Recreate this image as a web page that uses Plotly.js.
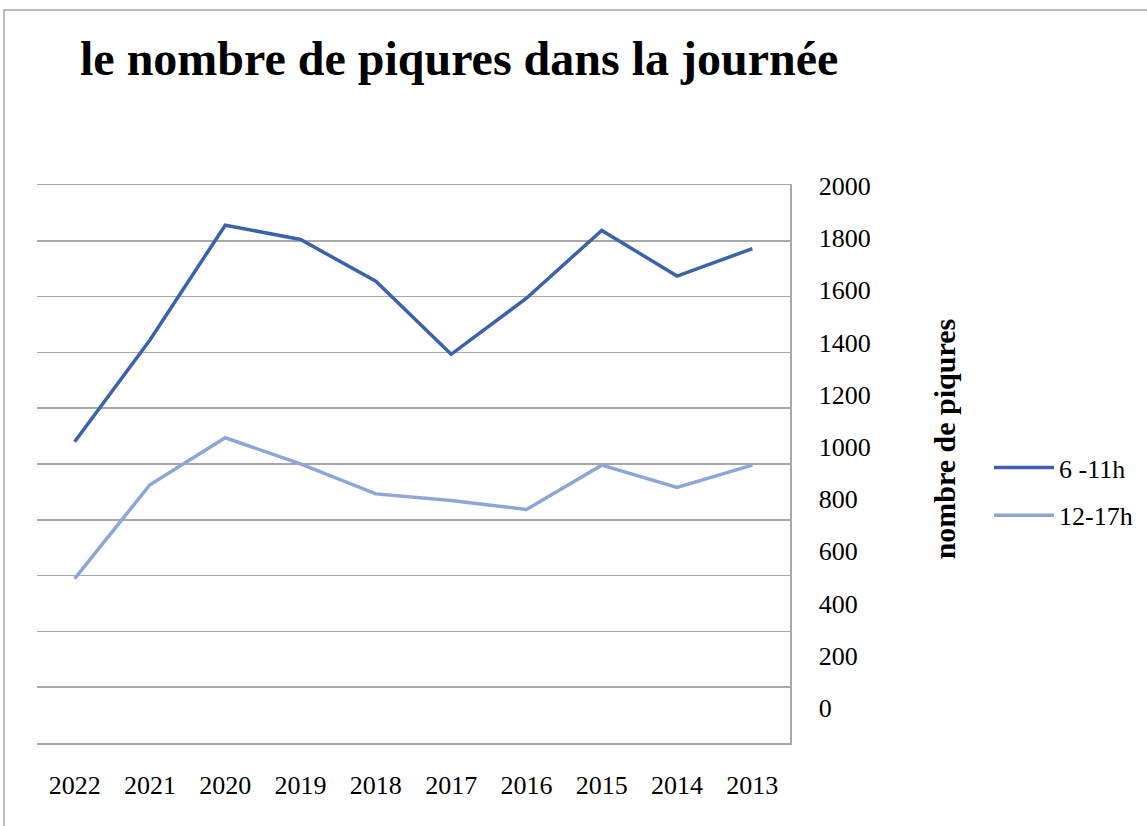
<!DOCTYPE html>
<html>
<head>
<meta charset="utf-8">
<script src="https://cdn.plot.ly/plotly-3.0.1.min.js"></script>
<style>html,body{margin:0;padding:0;background:#fff;}#chart{width:1147px;height:826px;}</style>
</head>
<body>
<div id="chart"></div>
<script>
const years = ["2022","2021","2020","2019","2018","2017","2016","2015","2014","2013"];
const morning = [1020, 1410, 1850, 1795, 1635, 1355, 1570, 1830, 1655, 1760];
const afternoon = [495, 855, 1035, 935, 820, 795, 760, 930, 845, 930];
const seriesNames = ["6 -11h", "12-17h"];
const yTicks = [0, 200, 400, 600, 800, 1000, 1200, 1400, 1600, 1800, 2000];

const serif = "'Liberation Serif', 'Times New Roman', serif";

const traces = [
  {x: years, y: morning, name: seriesNames[0], type: "scatter", mode: "lines",
   line: {color: "#3A62AD", width: 3.5}, legendgroup: "a", yaxis: "y"},
  {x: years, y: afternoon, name: seriesNames[1], type: "scatter", mode: "lines",
   line: {color: "#8EA5D9", width: 3.5}, legendgroup: "b", yaxis: "y"},
  // invisible trace to carry the gridline axis
  {x: years, y: yTicks.slice(0, 10), type: "scatter", mode: "lines", yaxis: "y2",
   line: {width: 0, color: "rgba(0,0,0,0)"}, showlegend: false, hoverinfo: "skip"}
];

const layout = {
  width: 1147, height: 826,
  margin: {l: 37, r: 357, t: 185, b: 83, pad: 0},
  paper_bgcolor: "#fff", plot_bgcolor: "#fff",
  font: {family: serif, color: "#000", size: 26},
  title: {text: "<b>le nombre de piqures dans la journée</b>", font: {family: serif, size: 48, color: "#000"},
          xref: "container", x: 80/1147, xanchor: "left", yref: "container", y: 1 - 58/826, yanchor: "middle"},
  xaxis: {type: "category", range: [-0.5, 9.5], showgrid: false, zeroline: false,
          showline: true, mirror: true, linecolor: "#a8a8a8", linewidth: 1.5,
          ticks: "", ticklabelstandoff: 18, tickfont: {family: serif, size: 26, color: "#000"}},
  yaxis: {range: [-135, 2004], side: "right", showgrid: false, zeroline: false, showline: true,
          linecolor: "#a8a8a8", linewidth: 1.5, tickvals: yTicks, ticks: "", ticklabelstandoff: 22,
          tickfont: {family: serif, size: 26, color: "#000"}},
  yaxis2: {overlaying: "y", range: [0, 2000], dtick: 200, showgrid: true, gridcolor: "#a8a8a8", gridwidth: 1.5,
           zeroline: true, zerolinecolor: "#a8a8a8", zerolinewidth: 1.5, showticklabels: false, ticks: "", showline: false},
  legend: {xref: "container", x: 989/1147, xanchor: "left", yref: "container", y: 1 - 444/826, yanchor: "top",
           font: {family: serif, size: 26, color: "#000"}, traceorder: "grouped", tracegroupgap: 11,
           itemwidth: 60, bgcolor: "rgba(0,0,0,0)"},
  annotations: [{text: "<b>nombre de piqures</b>", textangle: -90, xref: "paper", yref: "paper",
                 x: (944 - 37) / 753, y: (743.3 - 439.5) / 558.3, xanchor: "center", yanchor: "middle",
                 showarrow: false, font: {family: serif, size: 30, color: "#000"}}],
  shapes: [{type: "rect", xref: "paper", yref: "paper", x0: (4 - 37) / 753, x1: 2, y0: -1, y1: (743.3 - 10) / 558.3,
            line: {color: "#a6a6a6", width: 1.5}, fillcolor: "rgba(0,0,0,0)", layer: "below"}],
  showlegend: true
};

Plotly.newPlot("chart", traces, layout, {displayModeBar: false, staticPlot: true});
</script>
</body>
</html>
